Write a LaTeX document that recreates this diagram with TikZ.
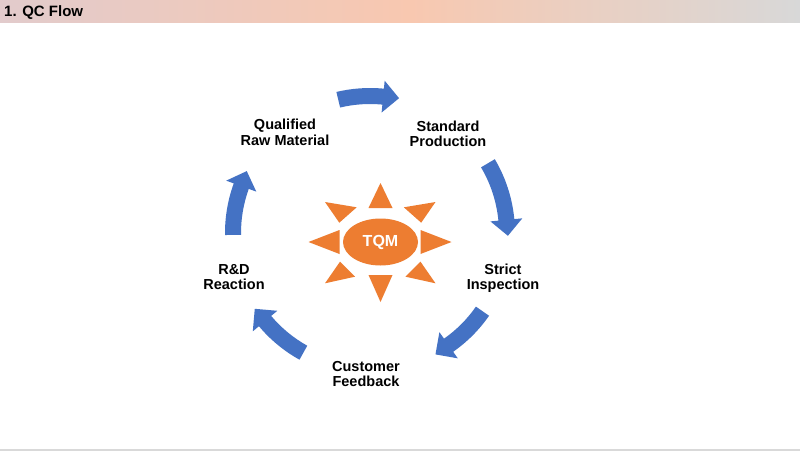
\documentclass[tikz,border=0pt]{standalone}
\usepackage{fontspec}
\setmainfont{Liberation Sans}
\usetikzlibrary{shapes.geometric,calc}
\definecolor{arrowblue}{HTML}{4472C4}
\definecolor{sunorange}{HTML}{ED7D31}
\definecolor{hdrA}{HTML}{E2CBCC}
\definecolor{hdrB}{HTML}{F8C8B0}
\definecolor{hdrC}{HTML}{D8D8D8}
\newcommand\qcarrow[3]{% tail angle, head-base angle, head length
  \pgfmathsetmacro\qctang{#2-90}
  \fill[arrowblue] (#1:145pt) arc[start angle=#1, end angle=#2, radius=145pt]
     -- (#2:153pt) -- ($(#2:137pt)+(\qctang:#3)$) -- (#2:121pt) -- (#2:129pt)
     arc[start angle=#2, end angle=#1, radius=129pt] -- cycle;
}
\begin{document}
\begin{tikzpicture}[x=1pt,y=1pt,
  lbl/.style={align=center, font=\fontsize{14.5}{15.5}\selectfont\bfseries, inner sep=0pt},
  ray/.style={fill=sunorange}]
\useasboundingbox (0,0) rectangle (800,451);
\fill[white] (0,0) rectangle (800,451);
% header bar
\shade[left color=hdrA, right color=hdrB] (0,428) rectangle (410,451);
\shade[left color=hdrB, right color=hdrC] (410,428) rectangle (800,451);
\node[anchor=base west, inner sep=0pt, font=\fontsize{15}{17}\selectfont\bfseries] (title) at (4,434) {1. QC Flow};
% bottom line
\fill[black!15] (0,0) rectangle (800,2);
% cycle arrows
\begin{scope}[shift={(370,218)}]
  \qcarrow{103.4}{84.5}{16pt}
  \qcarrow{30.6}{5.5}{16pt}
  \qcarrow{-34.8}{-55}{16pt}
  \qcarrow{240.9}{220}{16pt}
  \qcarrow{180.8}{160}{16pt}
\end{scope}
% sun
\begin{scope}[shift={(380.5,209)}]
  \node[ellipse, fill=sunorange, minimum width=75pt, minimum height=47pt, inner sep=0pt,
        text=white, font=\fontsize{16}{18}\selectfont\bfseries] (tqm) at (0,0) {TQM};
  \fill[ray] (0,59) -- (-12,34) -- (12,34) -- cycle;
  \fill[ray] (0,-60) -- (-12,-33) -- (12,-33) -- cycle;
  \fill[ray] (-72,0) -- (-41,12) -- (-41,-12) -- cycle;
  \fill[ray] (71,0) -- (40,12) -- (40,-12) -- cycle;
  \fill[ray] (-55.5,40) -- (-23.8,34.7) -- (-41.2,19.3) -- cycle;
  \fill[ray] (55,40) -- (23.3,34.7) -- (40.7,19.3) -- cycle;
  \fill[ray] (-55.5,-41.3) -- (-40.5,-19.7) -- (-25.5,-34.7) -- cycle;
  \fill[ray] (55,-41.3) -- (40,-19.7) -- (25,-34.7) -- cycle;
\end{scope}
% labels
\node[lbl] (raw) at (285,318.5) {Qualified\\Raw Material};
\node[lbl] (prod) at (448,317) {Standard\\Production};
\node[lbl] (insp) at (503,173) {Strict\\Inspection};
\node[lbl] (feed) at (366,77) {Customer\\Feedback};
\node[lbl] (rd) at (234,174) {R\&D\\Reaction};
\end{tikzpicture}
\end{document}
